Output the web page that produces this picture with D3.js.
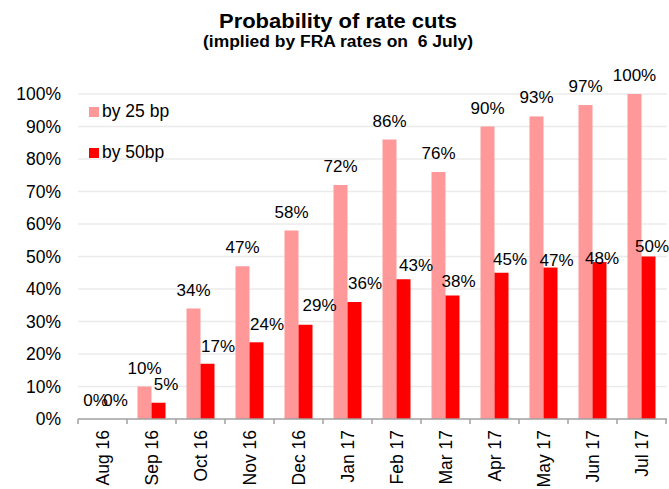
<!DOCTYPE html>
<html>
<head>
<meta charset="utf-8">
<script src="https://cdn.jsdelivr.net/npm/d3@7"></script>
<style>
  html, body { margin: 0; padding: 0; background: #fff; }
  svg { display: block; font-family: "Liberation Sans", Arial, sans-serif; }
</style>
</head>
<body>
<svg id="chart" width="669" height="489"></svg>
<script>
// ---- data ----
const categories = ["Aug 16","Sep 16","Oct 16","Nov 16","Dec 16","Jan 17","Feb 17","Mar 17","Apr 17","May 17","Jun 17","Jul 17"];
const by25 = [0, 10, 34, 47, 58, 72, 86, 76, 90, 93.1, 96.6, 100];
const by50 = [0, 5, 17, 23.6, 29, 36, 43, 38, 45, 46.6, 48.3, 50];
const seriesNames = ["by 25 bp", "by 50bp"];
const yTicks = [0, 10, 20, 30, 40, 50, 60, 70, 80, 90, 100];
const titleText = "Probability of rate cuts";
const subtitleText = "(implied by FRA rates on  6 July)";
// label nudges for the "by 50bp" value labels (manual placement in original)
const labelDx50 = [6, 7.5, 10.5, 10.5, 14, 10.5, 12.5, 6, 8.5, 6, 2.5, 3.5];
const labelDy50 = [0, 0, 1, 0.7, -0.3, 0, 4.3, 4, 5.3, 11.7, 15, 8];

// ---- layout ----
const colors = ["#FF9999", "#FF0000"];
const svg = d3.select("#chart");
const plotLeft = 78, plotRight = 667, plotTop = 94, plotBottom = 419;

const x = d3.scaleBand().domain(categories).range([plotLeft, plotRight - 1]).paddingInner(0).paddingOuter(0);
const inner = d3.scaleBand().domain([0, 1]).range([0, x.bandwidth()]).paddingOuter(0.75).paddingInner(0);
const y = d3.scaleLinear().domain([0, 100]).range([plotBottom, plotTop]);

// gridlines
svg.append("g").selectAll("line").data(yTicks.filter(d => d > 0)).join("line")
  .attr("x1", plotLeft).attr("x2", plotRight)
  .attr("y1", d => y(d)).attr("y2", d => y(d))
  .attr("stroke", "#ebebeb").attr("stroke-width", 1.3);

// y-axis labels
svg.append("g").selectAll("text").data(yTicks).join("text")
  .attr("x", 61).attr("y", d => y(d))
  .attr("dy", "0.35em")
  .attr("text-anchor", "end")
  .attr("font-size", "17.5px")
  .attr("fill", "#000")
  .text(d => d + "%");

// bars
const series = [by25, by50];
series.forEach((vals, s) => {
  svg.append("g").selectAll("rect").data(vals).join("rect")
    .attr("x", (d, i) => x(categories[i]) + inner(s))
    .attr("width", inner.bandwidth())
    .attr("y", d => y(d))
    .attr("height", d => plotBottom - y(d))
    .attr("fill", colors[s]);
});

// x axis
const xAxis = d3.axisBottom(x).tickSize(0).tickFormat("");
const axG = svg.append("g").attr("transform", `translate(0,${plotBottom})`).call(xAxis);
axG.select(".domain").remove();
svg.append("line").attr("x1", plotLeft).attr("x2", plotRight).attr("y1", plotBottom).attr("y2", plotBottom)
  .attr("stroke", "#a0a0a0").attr("stroke-width", 1.5);
const boundaries = categories.map(c => x(c)).concat([x(categories[categories.length - 1]) + x.bandwidth()]);
svg.append("g").selectAll("line").data(boundaries).join("line")
  .attr("x1", d => d).attr("x2", d => d)
  .attr("y1", plotBottom).attr("y2", plotBottom + 5)
  .attr("stroke", "#a0a0a0").attr("stroke-width", 1.5);

// x labels rotated
svg.append("g").selectAll("text").data(categories).join("text")
  .attr("transform", d => `translate(${x(d) + x.bandwidth() / 2},430) rotate(-90)`)
  .attr("text-anchor", "end")
  .attr("dy", "0.35em")
  .attr("font-size", "17.5px")
  .attr("fill", "#000")
  .text(d => d);

// value labels
const fmt = v => Math.round(v) + "%";
svg.append("g").selectAll("text").data(by25).join("text")
  .attr("x", (d, i) => x(categories[i]) + inner(0) + inner.bandwidth() / 2)
  .attr("y", d => y(d) - 13)
  .attr("text-anchor", "middle")
  .attr("font-size", "17px")
  .attr("fill", "#000")
  .text(fmt);
svg.append("g").selectAll("text").data(by50).join("text")
  .attr("x", (d, i) => x(categories[i]) + inner(1) + inner.bandwidth() / 2 + labelDx50[i])
  .attr("y", (d, i) => y(d) - 13 + labelDy50[i])
  .attr("text-anchor", "middle")
  .attr("font-size", "17px")
  .attr("fill", "#000")
  .text(fmt);

// legend
const legend = svg.append("g");
seriesNames.forEach((name, i) => {
  const ly = 107 + i * 41;
  legend.append("rect").attr("x", 89).attr("y", ly).attr("width", 10).attr("height", 10).attr("fill", colors[i]);
  legend.append("text").attr("x", 102).attr("y", ly + 10).attr("font-size", "17.5px").attr("fill", "#000").text(name);
});

// titles
svg.append("text").attr("x", 338).attr("y", 28).attr("text-anchor", "middle")
  .attr("font-size", "20px").attr("font-weight", "bold").attr("fill", "#000")
  .attr("textLength", 238).attr("lengthAdjust", "spacingAndGlyphs")
  .text(titleText);
svg.append("text").attr("x", 338).attr("y", 47).attr("text-anchor", "middle")
  .attr("font-size", "16px").attr("font-weight", "bold").attr("fill", "#000")
  .style("white-space", "pre")
  .attr("textLength", 270).attr("lengthAdjust", "spacingAndGlyphs")
  .text(subtitleText);
</script>
</body>
</html>
